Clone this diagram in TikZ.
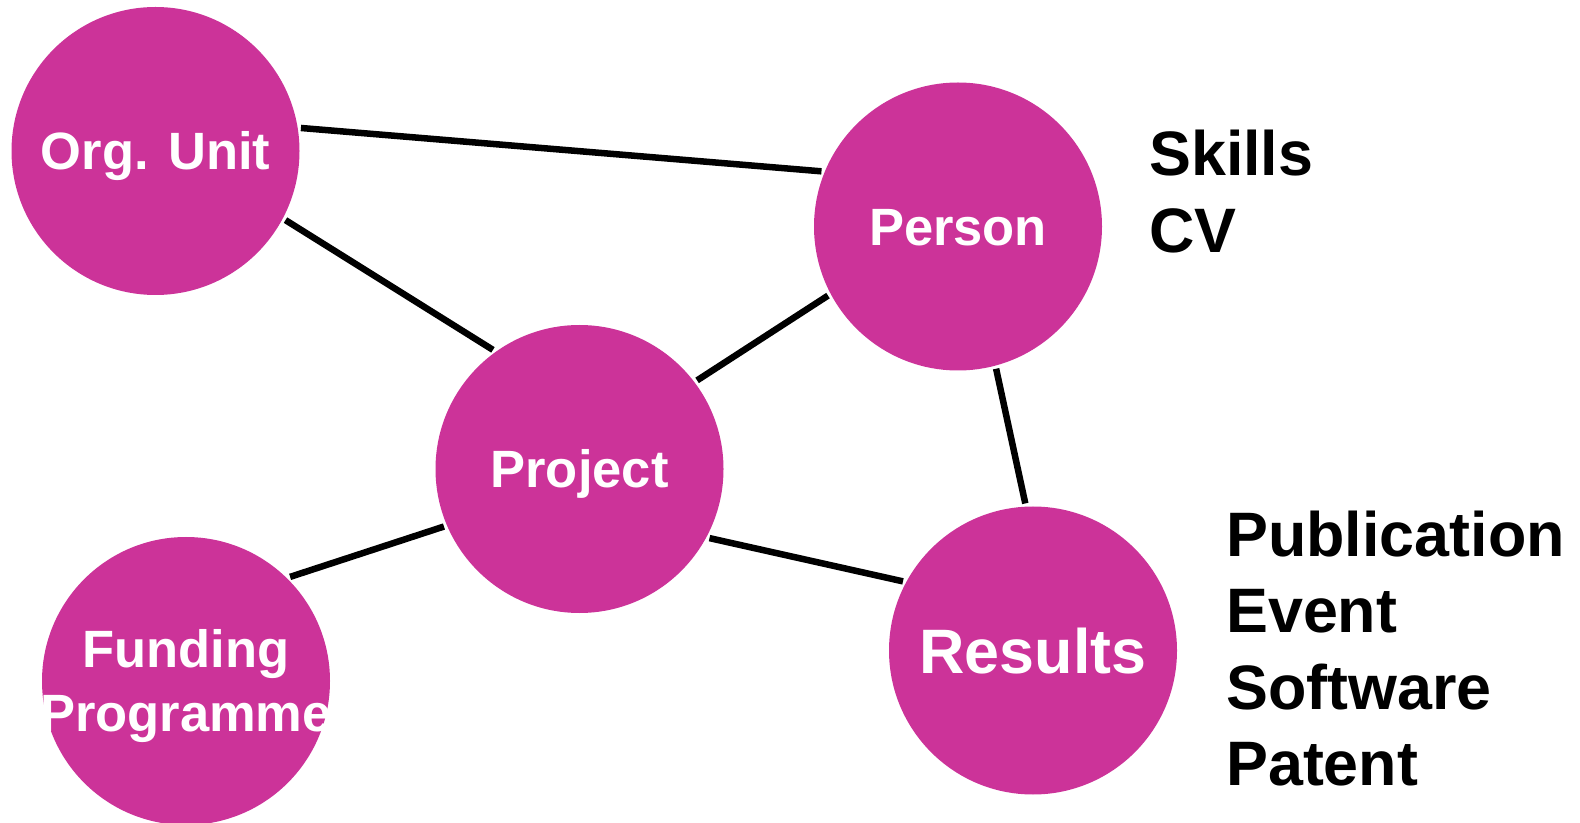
\documentclass[tikz,border=0pt]{standalone}
\usepackage{fontspec}
\setmainfont{Liberation Sans}
\usepackage{xcolor}
\definecolor{cerifpink}{RGB}{204,51,153}
\usetikzlibrary{positioning}

\begin{document}
\begin{tikzpicture}
[x=0.5pt, y=-0.5pt,
 line width=3.25pt,
 entity/.style={circle, fill=cerifpink, minimum size=144pt, inner sep=0pt,
   text=white, font=\bfseries\fontsize{26.25pt}{32pt}\selectfont,
   text height=18.8pt, text depth=0pt},
 big entity/.style={entity, font=\bfseries\fontsize{31.4pt}{38pt}\selectfont,
   text height=22.5pt},
 entity text/.style={inner sep=0pt, text=white, align=center,
   font=\bfseries\fontsize{26.25pt}{32pt}\selectfont},
 attr/.style={anchor=base west, inner sep=0pt,
   font=\bfseries\fontsize{31.4pt}{38pt}\selectfont},
]
\useasboundingbox (0,0) rectangle (1580,823);

\node[entity] (org) at (155.5,151) {Org. Unit};
\node[entity] (person) at (958,226.5) {Person};
\node[entity] (project) at (579.5,469) {Project};
\node[entity] (funding) at (186,681) {};
\node[entity text, yshift=-2.75pt] (fundtext) at (funding) {Funding\\Programme};
\node[big entity] (results) at (1033,650.5) {Results};

% attributes of person and results
\foreach \word/\y [count=\i] in {Skills/175.5, CV/252.5}
  \node[attr] (pers\i) at (1146,\y) {\word};
\foreach \word/\y [count=\i] in {Publication/556.5, Event/632, Software/709.5, Patent/785}
  \node[attr] (res\i) at (1223,\y) {\word};

\draw
(org.9)        -- (person.158)
(org.-28)      -- (project.126)
(project.37)   -- (person.208)
(person.-75)   -- (results.93)
(project.-28)  -- (results.152)
(funding.45)   -- (project.203);
\end{tikzpicture}
\end{document}
